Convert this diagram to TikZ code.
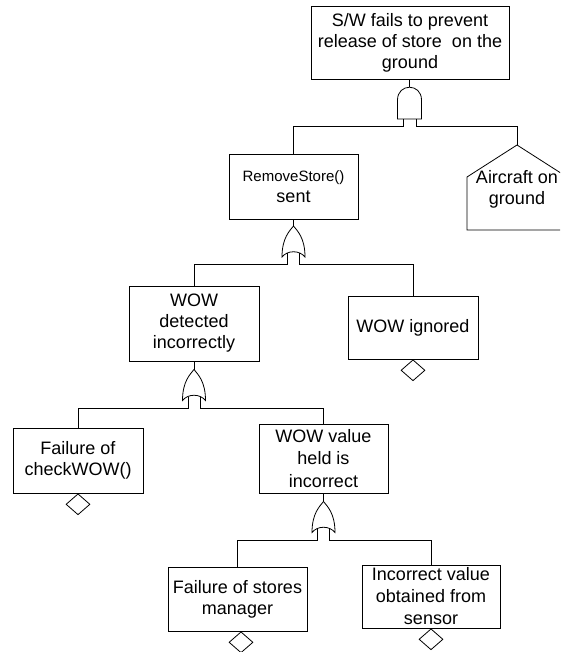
\documentclass[tikz,border=0pt]{standalone}
\usepackage{fontspec}
\setmainfont{Liberation Sans}
\usetikzlibrary{shapes.geometric}
\begin{document}
\begin{tikzpicture}[x=1pt,y=-1pt,
  line width=0.8pt,
  txt/.style={font=\fontsize{18}{21}\selectfont},
  evbox/.style={draw, rectangle, inner sep=0pt, align=center, txt},
  basic/.style={draw, diamond, inner sep=0pt, minimum width=24pt, minimum height=21pt, anchor=north},
  andgate/.pic={
    \coordinate (-top) at (0,0);
    \coordinate (-l) at (-6.5,32);
    \coordinate (-r) at (6.5,32);
    \draw (-12,32) -- (-12,13) .. controls (-12,-4) and (12,-4) .. (12,13) -- (12,32) -- cycle;
  },
  orgate/.pic={
    \coordinate (-top) at (0,0);
    \coordinate (-l) at (-6,27);
    \coordinate (-r) at (6,27);
    \draw (0,0) .. controls (-4,5) and (-11.5,12) .. (-11.5,31)
          .. controls (-6,24) and (6,24) .. (11.5,31)
          .. controls (11.5,12) and (4,5) .. (0,0) -- cycle;
  }]
\useasboundingbox (0,0) rectangle (560,652);
\clip (0,0) rectangle (560,652);

% events
\node[evbox, minimum width=198pt, minimum height=73pt] (top) at (410,42.5)
  {S/W fails to prevent\\release of store\ \ on the\\ground};
\node[evbox, minimum width=129pt, minimum height=65pt] (remove) at (293.5,186.5)
  {{\fontsize{15}{18}\selectfont RemoveStore()}\\sent};
\node[evbox, minimum width=130pt, minimum height=75pt] (wowdet) at (194,323.5)
  {WOW\\detected\\incorrectly};
\node[evbox, minimum width=130pt, minimum height=63pt] (wowign) at (413,327.5)
  {WOW ignored};
\node[evbox, minimum width=130pt, minimum height=65pt] (failchk) at (78,460.5)
  {Failure of\\checkWOW()};
\node[evbox, minimum width=129pt, minimum height=69pt,
      font=\fontsize{18}{22.5}\selectfont] (wowval) at (323.5,458.5)
  {WOW value\\held is\\incorrect};
\node[evbox, minimum width=139pt, minimum height=64pt] (failsm) at (237.5,599)
  {Failure of stores\\manager};
\node[evbox, minimum width=138pt, minimum height=63pt,
      font=\fontsize{18}{22}\selectfont] (incval) at (431,596.5)
  {Incorrect value\\obtained from\\sensor};

% house event
\coordinate (acTop) at (517,145);
\draw (acTop) -- (567,177) -- (567,230) -- (467,230) -- (467,177) -- cycle;
\node[txt, align=center, inner sep=0pt] (ac) at (517,189) {Aircraft on\\ground};

% basic event diamonds
\node[basic] (d1) at (wowign.south) {};
\node[basic] (d2) at (failchk.south) {};
\node[basic] (d3) at ([xshift=3.5pt]failsm.south) {};
\node[basic] (d4) at (incval.south) {};

% gates
\pic (g1) at (409.5,87) {andgate};
\pic (g2) at (293.5,226) {orgate};
\pic (g3) at (194,369.5) {orgate};
\pic (g4) at (323.5,501.5) {orgate};

% connectors
\draw (top.south -| g1-top) -- (g1-top);
\draw (g1-l) -- ++(0,7) -| (remove.north);
\draw (g1-r) -- ++(0,7) -| (acTop);

\draw (remove.south) -- (g2-top);
\draw (g2-l) -- ++(0,11) -| (wowdet.north);
\draw (g2-r) -- ++(0,11) -| (wowign.north);

\draw (wowdet.south) -- (g3-top);
\draw (g3-l) -- ++(0,12) -| (failchk.north);
\draw (g3-r) -- ++(0,12) -| (wowval.north);

\draw (wowval.south) -- (g4-top);
\draw (g4-l) -- ++(0,12) -| (failsm.north);
\draw (g4-r) -- ++(0,12) -| (incval.north);
\end{tikzpicture}
\end{document}
